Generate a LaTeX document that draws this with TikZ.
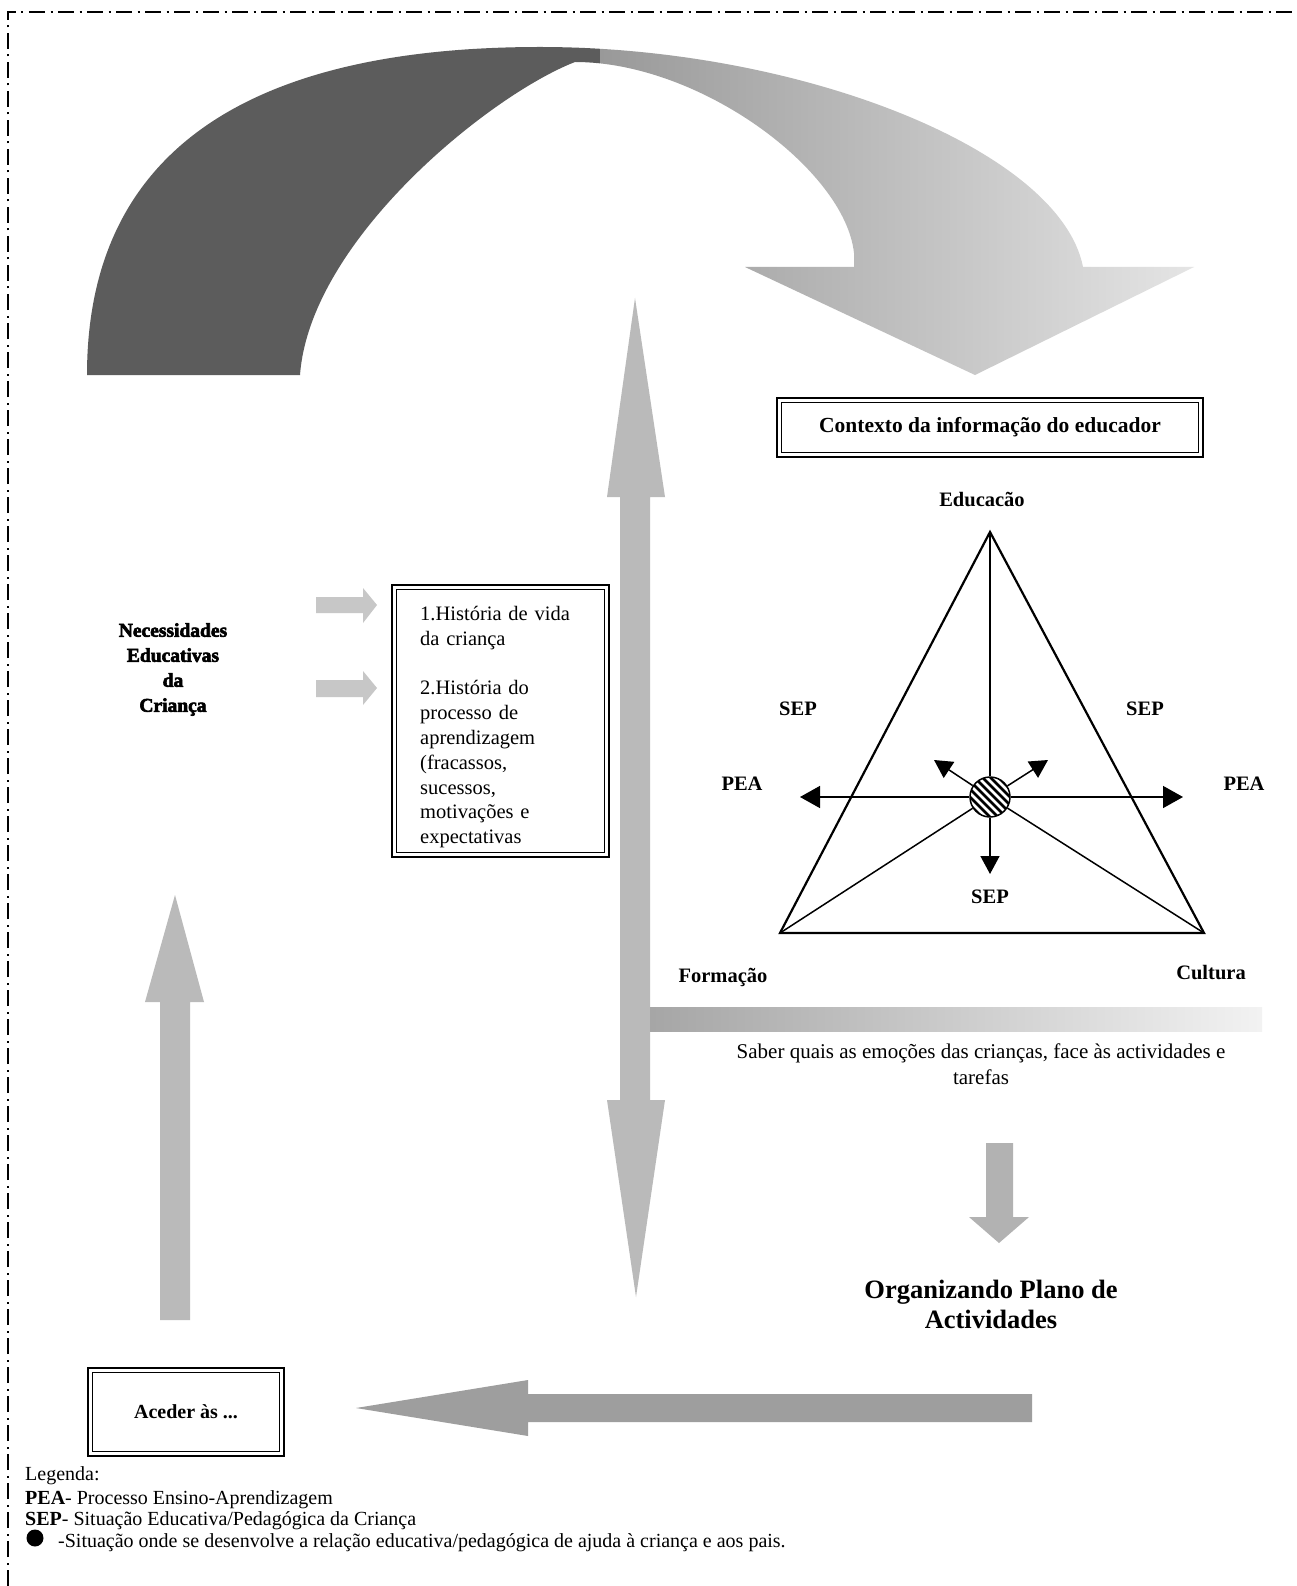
\documentclass[tikz,border=0pt]{standalone}
\usepackage{fontspec}
\setmainfont{Liberation Serif}
\newfontfamily\heavyfont[FakeBold=3]{Liberation Serif Bold}
\usetikzlibrary{arrows.meta}
\begin{document}
\begin{tikzpicture}[x=1pt,y=-1pt,
  plain/.style={inner sep=0pt, font=\fontsize{20}{24}\selectfont},
  lbl/.style={inner sep=0pt, font=\fontsize{20.5}{24}\selectfont\bfseries},
  fat/.style={fill=black!27, draw=none},
  dbox/.style={draw, line width=2.6pt, inner sep=0pt},
  innerbox/.style={line width=1.1pt},
  tri/.style={line width=2.2pt, line join=miter},
  ray/.style={line width=1.5pt},
  bigtip/.style={-{Triangle[length=20pt,width=22pt]}},
  midtip/.style={-{Triangle[length=18pt,width=19pt]}},
  frame/.style={line width=1.5pt, dash pattern=on 16pt off 5.5pt on 2pt off 5.5pt}
]
\useasboundingbox (0,0) rectangle (1296,1586);
\fill[white] (0,0) rectangle (1296,1586);

% dash-dot frame (top and left)
\coordinate (fb) at (8,1586);
\coordinate (ft) at (8,12);
\coordinate (fr) at (1296,12);
\draw[frame] (fb) -- (ft) -- (fr);

% big curved arrow
\begin{scope}
\clip (87,375) .. controls (87,150) and (250,47) .. (540,47)
 .. controls (800,47) and (1060,150) .. (1083,267)
 -- (1194,267) -- (975,375) -- (745,267) -- (854,267)
 -- (854,253) .. controls (845,170) and (700,62) .. (575,62)
 .. controls (490,95) and (310,240) .. (300,375) -- cycle;
\fill[black!64] (0,0) rectangle (600,400);
\shade[left color=black!40, right color=black!10] (600,0) rectangle (1200,400);
\end{scope}

% vertical double arrow
\fill[fat] (635,298) -- (665,497) -- (650,497) -- (650,1100) -- (665,1100)
  -- (636,1297) -- (607,1100) -- (620,1100) -- (620,497) -- (607,497) -- cycle;
% horizontal band
\shade[left color=black!35, middle color=black!27, right color=black!5] (650,1007) rectangle (1262,1031);

% left up arrow
\fill[fat] (175,895) -- (204,1002) -- (190,1002) -- (190,1320) -- (160,1320)
  -- (160,1002) -- (145,1002) -- cycle;

% bottom left arrow
\fill[black!38] (356,1408) -- (528,1380) -- (528,1394) -- (1032,1394) -- (1032,1422)
  -- (528,1422) -- (528,1436) -- cycle;

% small right arrows
\fill[black!22] (316,597) -- (363,597) -- (363,588) -- (377,605) -- (363,623) -- (363,613) -- (316,613) -- cycle;
\fill[black!22] (316,680) -- (363,680) -- (363,671) -- (377,688) -- (363,705) -- (363,697) -- (316,697) -- cycle;

% small down arrow
\fill[black!30] (986,1143) -- (1013,1143) -- (1013,1217) -- (1029,1217) -- (999,1243)
  -- (969,1217) -- (986,1217) -- cycle;

% box: Contexto
\node[dbox, minimum width=426pt, minimum height=59pt, font=\fontsize{21.5}{24}\selectfont\bfseries] (ctx) at (990,427.5) {Contexto da informação do educador};
\draw[innerbox] ([shift={(6,6)}]ctx.north west) rectangle ([shift={(-6,-6)}]ctx.south east);

% box: historia
\node[dbox, minimum width=217pt, minimum height=272pt] (hist) at (500.5,721) {};
\draw[innerbox] ([shift={(6,6)}]hist.north west) rectangle ([shift={(-6,-6)}]hist.south east);
\node[inner sep=0pt, anchor=north west, text width=175pt, align=left,
  font=\fontsize{20.5}{24.8}\selectfont] (histtxt) at (420,606)
  {1.História de vida\\da criança\\[24.8pt]2.História do\\processo de\\aprendizagem\\(fracassos,\\sucessos,\\motivações e\\expectativas};

% box: Aceder
\node[dbox, minimum width=196pt, minimum height=88pt, font=\fontsize{20}{24}\selectfont\bfseries] (acc) at (186,1412) {Aceder às ...};
\draw[innerbox] ([shift={(6,6)}]acc.north west) rectangle ([shift={(-6,-6)}]acc.south east);

% Necessidades
\node[inner sep=0pt, align=center, font=\heavyfont\fontsize{19.5}{25}\selectfont] (nec) at (173,669.5)
  {Necessidades\\Educativas\\da\\Criança};

% triangle
\coordinate (ap) at (990,532);
\coordinate (fo) at (780,933);
\coordinate (cu) at (1204,933);
\node[circle, draw, line width=1.5pt, minimum size=40pt, inner sep=0pt,
  path picture={
    \fill[black] (path picture bounding box.north west) rectangle (path picture bounding box.south east);
    \foreach \k in {-40,-32,...,40}{
      \draw[white, line width=2.6pt] ([xshift=\k pt]path picture bounding box.center) ++(-30,-30) -- ++(60,60);
    }
  }] (c) at (990,797) {};
\draw[tri] (ap) -- (fo) -- (cu) -- cycle;
\draw[ray] (ap) -- (c);
\draw[ray] (fo) -- (c);
\draw[ray] (cu) -- (c);
\coordinate (pl) at (800,797);
\coordinate (pr) at (1183,797);
\coordinate (ul) at (934,760);
\coordinate (ur) at (1048,760);
\coordinate (dn) at (990,874);
\draw[ray,bigtip] (c) -- (pl);
\draw[ray,bigtip] (c) -- (pr);
\draw[ray,midtip] (c) -- (ul);
\draw[ray,midtip] (c) -- (ur);
\draw[ray,midtip] (c) -- (dn);

% triangle labels
\node[lbl, anchor=base] (edu) at (982,506) {Educacão};
\node[lbl, anchor=base] (sepl) at (798,715) {SEP};
\node[lbl, anchor=base] (sepr) at (1145,715) {SEP};
\node[lbl, anchor=base] (peal) at (742,790) {PEA};
\node[lbl, anchor=base] (pear) at (1244,790) {PEA};
\node[lbl, anchor=base] (sepb) at (990,903) {SEP};
\node[lbl, anchor=base] (form) at (723,982) {Formação};
\node[lbl, anchor=base] (cult) at (1211,979) {Cultura};

% texts
\node[plain, align=center, font=\fontsize{21}{26}\selectfont] (saber) at (981,1064)
  {Saber quais as emoções das crianças, face às actividades e\\tarefas};
\node[inner sep=0pt, align=center, font=\fontsize{26.5}{30}\selectfont\bfseries] (org) at (991,1304)
  {Organizando Plano de\\Actividades};

% legend
\node[plain, anchor=base west] (leg) at (25,1480) {Legenda:};
\node[plain, anchor=base west] (legpea) at (25,1504) {\textbf{PEA}- Processo Ensino-Aprendizagem};
\node[plain, anchor=base west] (legsep) at (25,1525) {\textbf{SEP}- Situação Educativa/Pedagógica da Criança};
\node[circle, fill=black, minimum size=17pt, inner sep=0pt] (bul) at (35,1538) {};
\node[plain, anchor=base west] (legbul) at (58,1547) {-Situação onde se desenvolve a relação educativa/pedagógica de ajuda à criança e aos pais.};
\end{tikzpicture}
\end{document}
